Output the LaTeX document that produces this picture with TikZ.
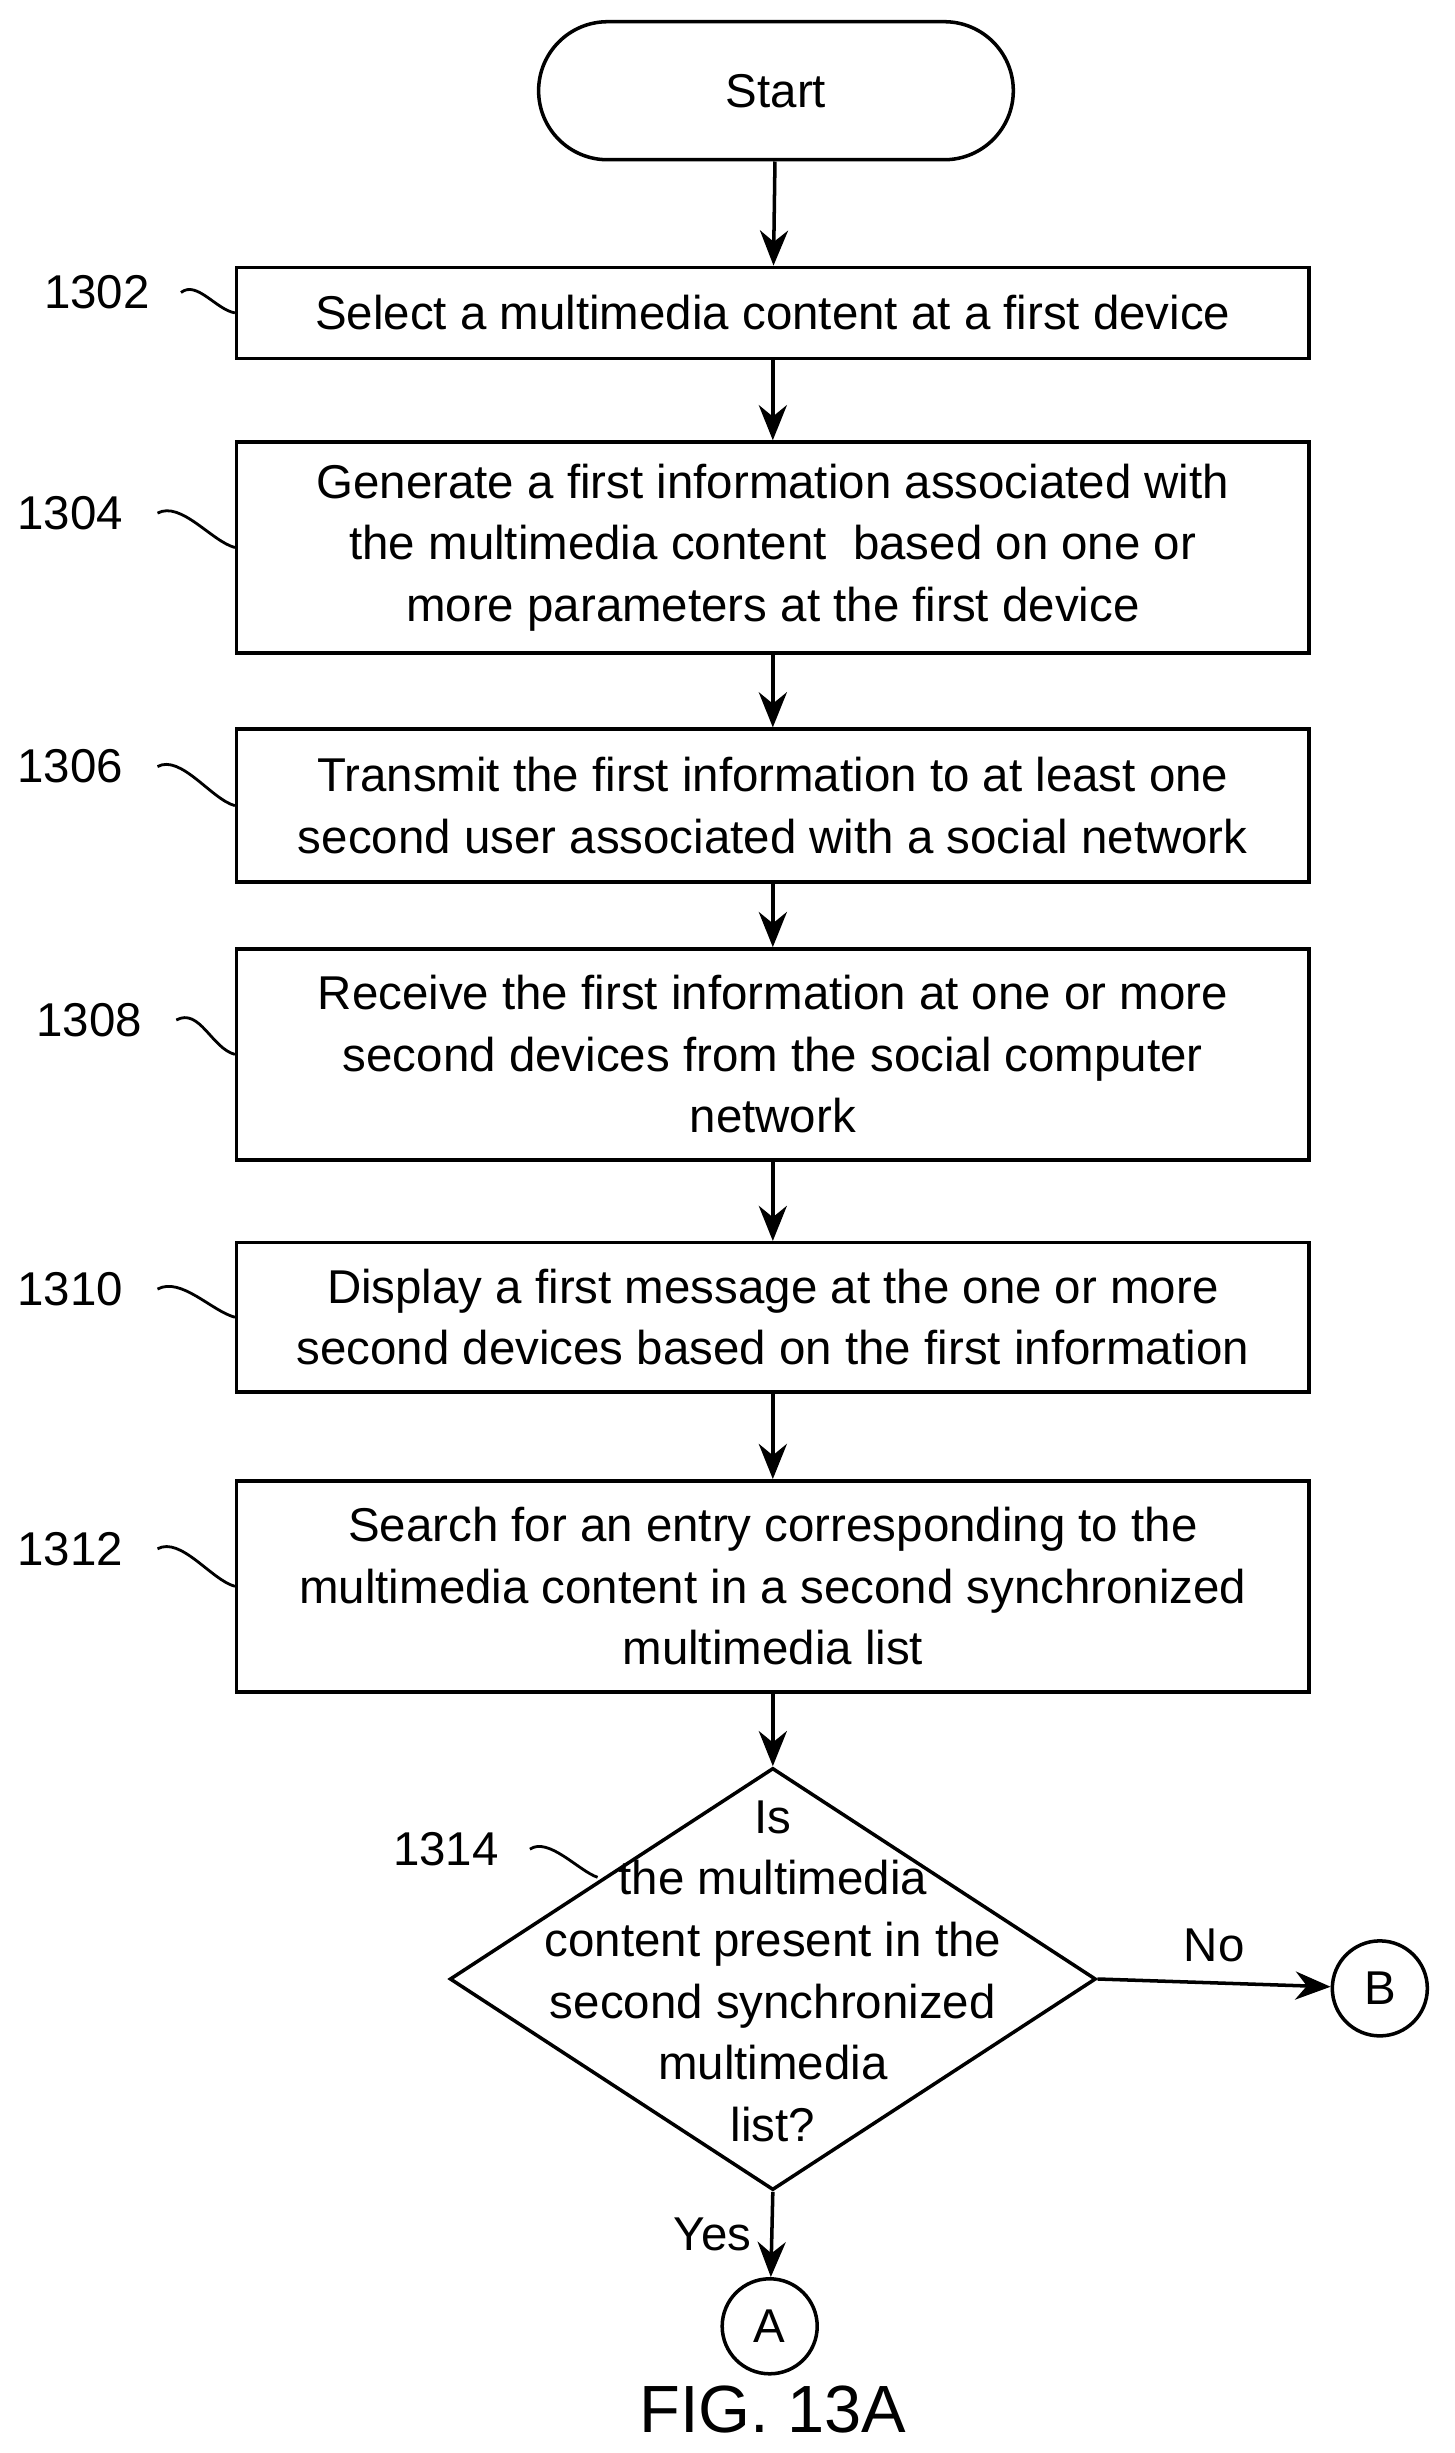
\documentclass[tikz,border=0pt]{standalone}
\usepackage{fontspec}
\setmainfont{Liberation Sans}
\usetikzlibrary{shapes.geometric,shapes.misc,arrows.meta}
\tikzset{
  box/.style = {draw, line width=1pt, minimum width=10.72cm, align=center, font=\fontsize{13.5}{17.5}\selectfont},
  conn/.style = {draw, circle, line width=1pt, minimum size=0.95cm, inner sep=0pt, font=\fontsize{13.5}{17.5}\selectfont},
  lbl/.style = {font=\fontsize{13.5}{17.5}\selectfont},
  flow/.style = {-{Stealth[length=10pt,width=8pt]}, line width=1pt},
  lead/.style = {line width=0.8pt}
}
\begin{document}
\begin{tikzpicture}[x=0.015645cm, y=-0.015645cm]
\useasboundingbox (0,0) rectangle (930,1568);
\node[draw, line width=1pt, rounded rectangle, minimum width=4.98cm, minimum height=1.38cm, lbl] (start) at (496,58) {Start};
\node[box, minimum height=0.91cm] (s1302) at (494,200) {Select a multimedia content at a first device};
\node[box, minimum height=2.11cm] (s1304) at (494,350) {Generate a first information associated with\\the multimedia content\ \ based on one or\\more parameters at the first device};
\node[box, minimum height=1.53cm] (s1306) at (494,515) {Transmit the first information to at least one\\second user associated with a social network};
\node[box, minimum height=2.11cm] (s1308) at (494,674) {Receive the first information at one or more\\second devices from the social computer\\network};
\node[box, minimum height=1.49cm] (s1310) at (494,842) {Display a first message at the one or more\\second devices based on the first information};
\node[box, minimum height=2.11cm] (s1312) at (494,1014) {Search for an entry corresponding to the\\multimedia content in a second synchronized\\multimedia list};
\node[draw, line width=1pt, diamond, minimum width=6.46cm, minimum height=4.22cm, inner sep=0pt] (d1314) at (494,1265) {};
\node[lbl, align=center] (q1314) at (494,1260) {Is\\the multimedia\\content present in the\\second synchronized\\multimedia\\list?};
\node[conn] (B) at (882,1271) {B};
\node[conn] (A) at (492,1487) {A};
\node[lbl] (fig) at (494,1540) {\fontsize{19}{22}\selectfont FIG. 13A};

\draw[flow] (start) -- (s1302);
\draw[flow] (s1302) -- (s1304);
\draw[flow] (s1304) -- (s1306);
\draw[flow] (s1306) -- (s1308);
\draw[flow] (s1308) -- (s1310);
\draw[flow] (s1310) -- (s1312);
\draw[flow] (s1312) -- (d1314);
\draw[flow] (d1314.east) -- (B) node[lbl, midway, above=2pt] {No};
\draw[flow] (d1314.south) -- (A) node[lbl, midway, left=2pt] {Yes};

% reference numerals
\node[lbl] (n1302) at (62,187) {1302};
\node[lbl] (n1304) at (45,328) {1304};
\node[lbl] (n1306) at (45,490) {1306};
\node[lbl] (n1308) at (57,652) {1308};
\node[lbl] (n1310) at (45,824) {1310};
\node[lbl] (n1312) at (45,990) {1312};
\node[lbl] (n1314) at (285,1182) {1314};
\draw[lead] (n1302.east) ++(12,0) .. controls +(10,-8) and +(-12,-2) .. (s1302.west);
\draw[lead] (n1304.east) ++(14,0) .. controls +(15,-8) and +(-15,-4) .. (s1304.west);
\draw[lead] (n1306.east) ++(14,0) .. controls +(15,-8) and +(-15,-4) .. (s1306.west);
\draw[lead] (n1308.east) ++(14,0) .. controls +(15,-8) and +(-15,-4) .. (s1308.west);
\draw[lead] (n1310.east) ++(14,0) .. controls +(15,-8) and +(-15,-4) .. (s1310.west);
\draw[lead] (n1312.east) ++(14,0) .. controls +(15,-8) and +(-15,-4) .. (s1312.west);
\draw[lead] (n1314.east) ++(12,0) .. controls +(12,-8) and +(-12,-4) .. (382,1200);
\end{tikzpicture}
\end{document}
